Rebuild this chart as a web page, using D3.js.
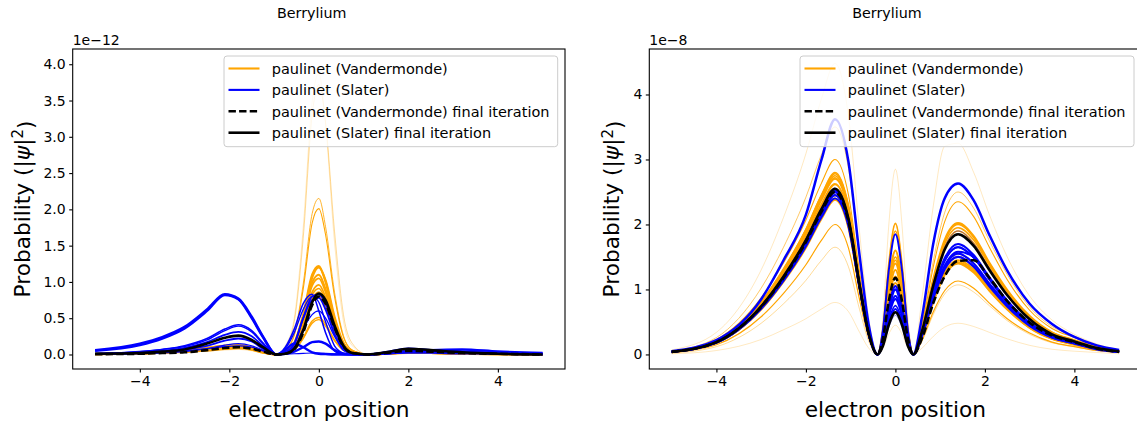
<!DOCTYPE html>
<html>
<head>
<meta charset="utf-8">
<script src="https://cdn.jsdelivr.net/npm/d3@7"></script>
<style>
  body { margin: 0; background: #fff; }
  text { font-family: "DejaVu Sans", sans-serif; fill: #000; }
</style>
</head>
<body>
<svg id="fig" width="1137" height="424"></svg>
<script>
// ---- sample positions (electron position) ----
const xLeft = [-5, -4, -3.5, -3, -2.5, -2.1, -1.8, -1.5, -1.25, -0.95, -0.75, -0.55, -0.35, -0.15, 0, 0.15, 0.35, 0.55, 0.75, 1.1, 1.5, 2, 2.5, 3.2, 4, 5];
const xRight = [-5, -4, -3, -2.5, -2, -1.65, -1.35, -1.05, -0.8, -0.6, -0.4, -0.28, -0.15, 0, 0.15, 0.28, 0.4, 0.6, 0.85, 1.1, 1.4, 1.75, 2.1, 2.5, 3, 3.5, 4, 4.5, 5];

// ---- left panel, |psi|^2 in units of 1e-12, one entry per training iteration ----
const leftVandermonde = [
  { epoch: 1,  y: [0,.01,.02,.03,.05,.06,.07,.05,.02,0, .12,.5,1.74,3.48,3.87,3.17,1.55,.46,.12,0, .01,.02,.02,.01,0,0] },
  { epoch: 2,  y: [0,.01,.02,.03,.05,.07,.08,.06,.02,0, .1,.45,1.6,3.3,3.72,3.2,1.7,.55,.15,0, .01,.02,.02,.01,0,0] },
  { epoch: 4,  y: [.005,.015,.03,.05,.08,.1,.11,.08,.03,0, .06,.28,.97,1.94,2.15,1.76,.86,.26,.06,0, .01,.03,.02,.01,.005,0] },
  { epoch: 5,  y: [.005,.015,.03,.05,.08,.1,.1,.07,.03,0, .06,.26,.9,1.81,2.01,1.65,.8,.24,.06,0, .01,.03,.02,.01,.005,0] },
  { epoch: 8,  y: [.005,.01,.02,.03,.05,.07,.08,.06,.02,0, .01,.06,.22,.43,.48,.39,.19,.06,.01,0, .005,.02,.015,.01,.005,0] },
  { epoch: 9,  y: [.005,.01,.02,.04,.06,.08,.09,.07,.03,0, .02,.07,.23,.46,.51,.42,.2,.06,.02,0, .01,.02,.02,.01,.005,0] },
  { epoch: 10, y: [.005,.01,.02,.04,.06,.08,.09,.07,.03,0, .03,.11,.39,.77,.86,.71,.34,.1,.03,0, .01,.02,.02,.01,.005,0] },
  { epoch: 11, y: [.005,.015,.025,.04,.07,.09,.1,.07,.03,0, .03,.12,.41,.82,.91,.75,.36,.11,.03,0, .01,.02,.02,.01,.005,0] },
  { epoch: 12, y: [.005,.015,.03,.05,.08,.1,.1,.08,.03,0, .03,.12,.43,.86,.96,.79,.38,.12,.03,0, .01,.02,.02,.01,.005,0] },
  { epoch: 13, y: [.005,.015,.03,.05,.08,.1,.11,.08,.03,0, .03,.14,.47,.95,1.05,.86,.42,.13,.03,0, .01,.03,.02,.01,.005,0] },
  { epoch: 14, y: [.005,.015,.03,.05,.08,.11,.12,.09,.04,0, .03,.14,.5,.99,1.1,.9,.44,.13,.03,0, .01,.03,.02,.01,.005,0] },
  { epoch: 15, y: [.005,.015,.03,.05,.08,.11,.12,.09,.04,0, .02,.1,.36,.72,.8,.66,.32,.1,.02,0, .01,.03,.02,.01,.005,0] },
  { epoch: 16, y: [.005,.02,.03,.06,.09,.12,.13,.1,.04,0, .04,.16,.55,1.1,1.22,1.0,.49,.15,.04,0, .01,.03,.03,.01,.005,0] },
  { epoch: 17, y: [.005,.02,.03,.05,.09,.12,.12,.09,.04,0, .03,.15,.52,1.06,1.2,1.02,.52,.16,.04,0, .01,.03,.03,.01,.005,0] }
];
const leftSlater = [
  { epoch: 6,  y: [0,.01,.02,.04,.08,.13,.15,.12,.06,0, .005,.01,.015,.02,.02,.015,.01,.005,0,0, .02,.05,.05,.03,.02,.01] },
  { epoch: 7,  y: [.01,.02,.03,.05,.08,.11,.12,.1,.05,0, .03,.1,.35,.55,.6,.5,.25,.08,.02,0, .01,.05,.06,.04,.02,.01] },
  { epoch: 8,  y: [.01,.04,.07,.11,.2,.33,.39,.31,.15,0, .08,.3,.62,.8,.72,.45,.12,.02,0,0, .01,.03,.03,.02,.01,0] },
  { epoch: 10, y: [.01,.04,.07,.12,.22,.35,.41,.33,.16,0, .1,.35,.7,.83,.6,.3,.05,0,0,0, .01,.02,.02,.01,.01,0] },
  { epoch: 12, y: [.01,.03,.05,.09,.17,.27,.31,.25,.12,0, .03,.14,.5,.8,.83,.7,.35,.1,.02,0, .01,.04,.04,.03,.01,0] },
  { epoch: 13, y: [.01,.02,.04,.07,.12,.19,.22,.18,.08,0, .03,.15,.5,.75,.78,.62,.28,.06,.01,0, .01,.04,.05,.04,.02,.01] },
  { epoch: 19, y: [.05,.13,.22,.36,.6,.82,.76,.5,.24,0, .01,.04,.1,.17,.18,.15,.06,.01,0,0, .03,.08,.06,.04,.02,.01] },
  { epoch: 20, y: [.06,.15,.24,.38,.62,.83,.77,.52,.25,0, .06,.15,.1,.03,.01,.005,0,0,0,0, .02,.04,.06,.07,.04,.02] }
];
const leftVandermondeFinal = [.005,.01,.02,.03,.06,.09,.1,.08,.04,0, .01,.07,.3,.68,.8,.7,.37,.11,.02,0, .02,.05,.04,.02,.01,0];
const leftSlaterFinal      = [.01,.02,.04,.07,.15,.23,.26,.2,.1,0, .01,.08,.33,.72,.84,.75,.4,.12,.02,0, .03,.08,.06,.03,.01,0];

// ---- right panel, |psi|^2 in units of 1e-8 ----
const rightVandermonde = [
  { epoch: 1,  y: [.07,.34,1.3,2.11,3.09,3.94,4.48,3.67,1.88,.58,0, .57,1.97,2.85,1.97,.57, 0,.9,2.3,3.2,3.25,2.8,2.15,1.5,.9,.53,.31,.16,.07] },
  { epoch: 1,  y: [.01,.06,.23,.38,.55,.7,.8,.66,.34,.1,0, .09,.31,.45,.31,.09, 0,.1,.28,.42,.48,.43,.34,.24,.14,.08,.05,.03,.01] },
  { epoch: 3,  y: [.05,.26,1.02,1.65,2.42,3.08,3.5,2.87,1.47,.46,0, .4,1.38,2.0,1.38,.4, 0,.5,1.45,2.18,2.5,2.25,1.75,1.23,.73,.43,.28,.14,.06] },
  { epoch: 2,  y: [.02,.12,.48,.78,1.14,1.45,1.65,1.35,.69,.21,0, .18,.62,.9,.62,.18, 0,.21,.62,.93,1.07,.96,.75,.52,.31,.18,.12,.06,.03] },
  { epoch: 5,  y: [.05,.23,.87,1.41,2.07,2.64,3.0,2.46,1.26,.39,0, .32,1.1,1.6,1.1,.32, 0,.47,1.36,2.04,2.35,2.12,1.65,1.15,.68,.4,.26,.13,.06] },
  { epoch: 6,  y: [.03,.15,.58,.94,1.38,1.76,2.0,1.64,.84,.26,0, .2,.69,1.0,.69,.2, 0,.23,.66,.98,1.13,1.02,.79,.55,.33,.19,.12,.06,.03] },
  { epoch: 8,  y: [.04,.21,.81,1.32,1.93,2.46,2.8,2.3,1.18,.36,0, .38,1.31,1.9,1.31,.38, 0,.4,1.16,1.74,2.0,1.8,1.4,.98,.58,.34,.22,.11,.05] },
  { epoch: 9,  y: [.04,.2,.79,1.28,1.88,2.39,2.72,2.23,1.14,.35,0, .4,1.39,2.02,1.39,.4, 0,.31,.9,1.35,1.55,1.4,1.09,.76,.45,.26,.17,.09,.04] },
  { epoch: 10, y: [.04,.21,.81,1.31,1.92,2.45,2.78,2.28,1.17,.36,0, .3,1.04,1.5,1.04,.3, 0,.39,1.13,1.7,1.95,1.76,1.37,.96,.57,.33,.21,.11,.05] },
  { epoch: 11, y: [.04,.21,.8,1.29,1.9,2.42,2.75,2.26,1.16,.36,0, .29,1.0,1.45,1.0,.29, 0,.38,1.1,1.65,1.9,1.71,1.33,.93,.55,.32,.21,.1,.05] },
  { epoch: 12, y: [.04,.2,.78,1.27,1.86,2.38,2.7,2.21,1.13,.35,0, .24,.83,1.2,.83,.24, 0,.3,.87,1.31,1.5,1.35,1.05,.74,.44,.26,.17,.08,.04] },
  { epoch: 13, y: [.04,.18,.71,1.15,1.69,2.16,2.45,2.01,1.03,.32,0, .28,.97,1.4,.97,.28, 0,.29,.84,1.26,1.45,1.31,1.02,.71,.42,.25,.16,.08,.04] },
  { epoch: 14, y: [.04,.18,.7,1.13,1.66,2.11,2.4,1.97,1.01,.31,0, .22,.76,1.1,.76,.22, 0,.28,.81,1.22,1.4,1.26,.98,.69,.41,.24,.15,.08,.04] },
  { epoch: 15, y: [.04,.18,.69,1.12,1.64,2.09,2.38,1.95,1.0,.31,0, .26,.9,1.3,.9,.26, 0,.28,.82,1.24,1.42,1.28,.99,.7,.41,.24,.16,.08,.04] },
  { epoch: 16, y: [.04,.2,.76,1.23,1.81,2.31,2.62,2.15,1.1,.34,0, .32,1.1,1.6,1.1,.32, 0,.4,1.17,1.76,2.02,1.82,1.41,.99,.59,.34,.22,.11,.05] }
];
const rightSlater = [
  { epoch: 2,  y: [.04,.19,.74,1.2,1.76,2.24,2.55,2.09,1.07,.33,0, .12,.41,.6,.41,.12, 0,.38,1.1,1.65,1.9,1.71,1.33,.93,.55,.32,.21,.1,.05] },
  { epoch: 12, y: [.04,.18,.7,1.13,1.66,2.11,2.4,1.97,1.01,.31,0, .15,.52,.75,.52,.15, 0,.33,.96,1.44,1.65,1.49,1.16,.81,.48,.28,.18,.09,.04] },
  { epoch: 14, y: [.04,.19,.74,1.2,1.76,2.24,2.55,2.09,1.07,.33,0, .37,1.28,1.85,1.28,.37, 0,.34,.99,1.48,1.7,1.53,1.19,.83,.49,.29,.19,.09,.04] },
  { epoch: 15, y: [.04,.19,.73,1.18,1.73,2.2,2.5,2.05,1.05,.33,0, .18,.62,.9,.62,.18, 0,.33,.96,1.44,1.65,1.49,1.16,.81,.48,.28,.18,.09,.04] },
  { epoch: 16, y: [.04,.19,.73,1.18,1.74,2.22,2.52,2.07,1.06,.33,0, .14,.48,.7,.48,.14, 0,.3,.9,1.36,1.58,1.5,1.16,.8,.47,.28,.18,.09,.04] },
  { epoch: 17, y: [.04,.18,.71,1.15,1.69,2.16,2.45,2.01,1.03,.32,0, .21,.72,1.05,.72,.21, 0,.31,.9,1.35,1.55,1.4,1.09,.76,.45,.26,.17,.09,.04] },
  { epoch: 18, y: [.04,.19,.73,1.18,1.73,2.2,2.5,2.05,1.05,.33,0, .17,.59,.85,.59,.17, 0,.3,.87,1.31,1.5,1.35,1.05,.74,.44,.26,.17,.08,.04] },
  { epoch: 20, y: [.05,.22,.85,1.45,2.15,3.0,3.62,2.97,1.52,.47,0, .2,.69,1.0,.69,.2, 0,.6,1.72,2.4,2.63,2.37,1.84,1.29,.78,.47,.27,.14,.07] }
];
const rightVandermondeFinal = [.04,.19,.73,1.18,1.73,2.2,2.5,2.05,1.05,.33,0, .24,.81,1.18,.81,.24, 0,.26,.8,1.2,1.44,1.45,1.18,.82,.49,.29,.19,.09,.04];
const rightSlaterFinal      = [.04,.19,.74,1.2,1.76,2.24,2.55,2.09,1.07,.33,0, .13,.45,.65,.45,.13, 0,.37,1.07,1.61,1.85,1.67,1.3,.91,.54,.31,.2,.1,.05];

// ---- axis ticks and labels ----
const xTicks = [-4, -2, 0, 2, 4];
const leftYTicks = [0, 0.5, 1.0, 1.5, 2.0, 2.5, 3.0, 3.5, 4.0];
const rightYTicks = [0, 1, 2, 3, 4];
const legendLabels = ["paulinet (Vandermonde)", "paulinet (Slater)", "paulinet (Vandermonde) final iteration", "paulinet (Slater) final iteration"];

const ORANGE = "#ffa500", BLUE = "#0000ff";
const svg = d3.select("#fig");
const minus = v => (v < 0 ? "\u2212" + Math.abs(v) : String(v));

// line width / opacity grow with the training iteration
const widthOf = d3.scaleLinear().domain([1, 20]).range([0.7, 2.5]);
const alphaOf = d3.scaleLinear().domain([1, 5]).range([0.35, 1]).clamp(true);

function panel(cfg) {
  const x = d3.scaleLinear().domain([-5.5, 5.5]).range([cfg.x0, cfg.x1]);
  const y = d3.scaleLinear().domain(cfg.yDomain).range([369, 49]);
  const id = "clip" + cfg.key;
  svg.append("clipPath").attr("id", id).append("rect")
    .attr("x", cfg.x0).attr("y", 49).attr("width", cfg.x1 - cfg.x0).attr("height", 320);

  const g = svg.append("g").attr("clip-path", `url(#${id})`);
  const line = d3.line().x((d, i) => x(cfg.xs[i])).y(d => y(d)).curve(d3.curveMonotoneX);

  g.selectAll("path.v").data(cfg.vander).join("path").attr("class", "v")
    .attr("d", d => line(d.y)).attr("fill", "none").attr("stroke", ORANGE)
    .attr("stroke-width", d => widthOf(d.epoch)).attr("stroke-opacity", d => alphaOf(d.epoch));
  g.selectAll("path.s").data(cfg.slater).join("path").attr("class", "s")
    .attr("d", d => line(d.y)).attr("fill", "none").attr("stroke", BLUE)
    .attr("stroke-width", d => widthOf(d.epoch)).attr("stroke-opacity", d => alphaOf(d.epoch));
  g.append("path").attr("d", line(cfg.vFinal)).attr("fill", "none").attr("stroke", "#000")
    .attr("stroke-width", 2.6).attr("stroke-dasharray", "7.4,3.2");
  g.append("path").attr("d", line(cfg.sFinal)).attr("fill", "none").attr("stroke", "#000")
    .attr("stroke-width", 2.6);

  // axes
  const ax = svg.append("g").attr("transform", "translate(0,369)")
    .call(d3.axisBottom(x).tickValues(xTicks).tickSize(3.5).tickPadding(3.5).tickFormat(minus));
  const ay = svg.append("g").attr("transform", `translate(${cfg.x0},0)`)
    .call(d3.axisLeft(y).tickValues(cfg.yTicks).tickSize(3.5).tickPadding(3.5).tickFormat(cfg.fmt));
  [ax, ay].forEach(a => {
    a.select(".domain").remove();
    a.selectAll("line").attr("stroke", "#000").attr("stroke-width", 1.1);
    a.selectAll("text").style("font-family", '"DejaVu Sans", sans-serif').style("font-size", "14px").attr("fill", "#000");
  });

  // frame
  svg.append("rect").attr("x", cfg.x0).attr("y", 49).attr("width", cfg.x1 - cfg.x0).attr("height", 320)
    .attr("fill", "none").attr("stroke", "#000").attr("stroke-width", 1.1);

  // titles and labels
  svg.append("text").attr("x", cfg.titleX).attr("y", 18).attr("text-anchor", "middle")
    .style("font-size", "14.3px").text("Berrylium");
  svg.append("text").attr("x", cfg.x0).attr("y", 45).style("font-size", "14px").text(cfg.offset);
  svg.append("text").attr("x", (cfg.x0 + cfg.x1) / 2).attr("y", 417).attr("text-anchor", "middle")
    .style("font-size", "21.7px").text("electron position");
  const yl = svg.append("text").attr("transform", `translate(${cfg.ylabelX},209) rotate(-90)`)
    .attr("text-anchor", "middle").attr("dy", "0.35em").style("font-size", "21.7px");
  yl.append("tspan").text("Probability (|");
  yl.append("tspan").style("font-style", "italic").text("\u03c8");
  yl.append("tspan").text("|");
  yl.append("tspan").attr("dy", "-0.45em").style("font-size", "15px").text("2");
  yl.append("tspan").attr("dy", "0.45em").text(")");

  // legend
  const lg = svg.append("g");
  lg.append("rect").attr("x", cfg.legX).attr("y", 56).attr("width", cfg.legW).attr("height", 90.7)
    .attr("rx", 3).attr("fill", "#fff").attr("fill-opacity", 0.8).attr("stroke", "#cccccc").attr("stroke-width", 1);
  const styles = [
    { c: ORANGE, w: 2.1, dash: null },
    { c: BLUE, w: 2.1, dash: null },
    { c: "#000", w: 2.6, dash: "7.4,3.2" },
    { c: "#000", w: 2.6, dash: null }
  ];
  legendLabels.forEach((lab, i) => {
    const yy = 68.5 + i * 21.4;
    lg.append("line").attr("x1", cfg.legX + 4.5).attr("x2", cfg.legX + 35.5).attr("y1", yy).attr("y2", yy)
      .attr("stroke", styles[i].c).attr("stroke-width", styles[i].w).attr("stroke-dasharray", styles[i].dash);
    lg.append("text").attr("x", cfg.legX + 47.7).attr("y", yy).attr("dy", "0.36em")
      .style("font-size", "14.5px").text(lab);
  });
}

panel({
  key: "L", x0: 72.7, x1: 565, xs: xLeft, yDomain: [-0.2, 4.21], yTicks: leftYTicks, fmt: d3.format(".1f"),
  vander: leftVandermonde, slater: leftSlater, vFinal: leftVandermondeFinal, sFinal: leftSlaterFinal,
  titleX: 311.7, offset: "1e\u221212", ylabelX: 22, legX: 224, legW: 333.7
});
panel({
  key: "R", x0: 649.3, x1: 1141.5, xs: xRight, yDomain: [-0.224, 4.70], yTicks: rightYTicks, fmt: d3.format("d"),
  vander: rightVandermonde, slater: rightSlater, vFinal: rightVandermondeFinal, sFinal: rightSlaterFinal,
  titleX: 887, offset: "1e\u22128", ylabelX: 611.7, legX: 800, legW: 334
});
</script>
</body>
</html>
